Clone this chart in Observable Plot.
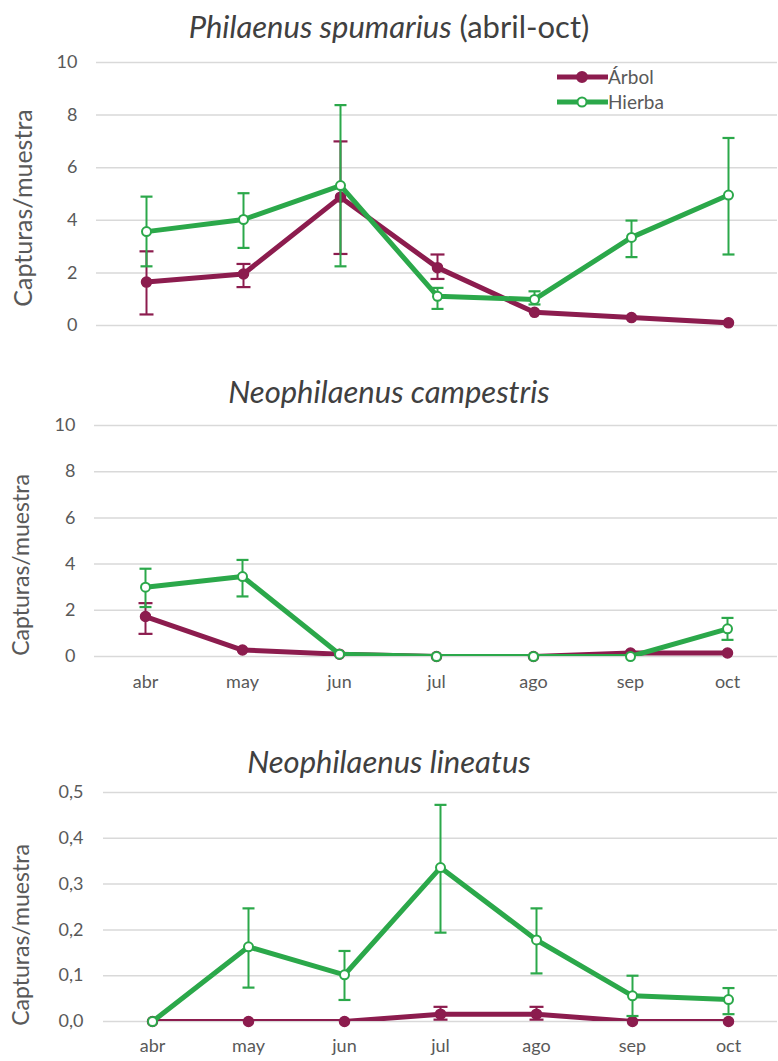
<!DOCTYPE html>
<html><head><meta charset="utf-8">
<script src="https://cdn.jsdelivr.net/npm/d3@7"></script>
<script src="https://cdn.jsdelivr.net/npm/@observablehq/plot@0.6"></script>
<style>
body{margin:0;background:#fff;font-family:Lato,sans-serif;}
#wrap{position:relative;width:778px;height:1061px;overflow:hidden;background:#fff;}
.title{position:absolute;left:0;width:778px;text-align:center;font-size:31px;color:#404040;line-height:36px;}
.ylab{position:absolute;transform:translate(-50%,-50%) rotate(-90deg);white-space:nowrap;color:#595959;}
.panel{position:absolute;left:0;}
</style></head><body><div id="wrap"></div>
<script>
const months = ["abr","may","jun","jul","ago","sep","oct"];
const seriesNames = ["Árbol","Hierba"];
const seriesColors = ["#8c1c4e","#2ba84a"];

// Panel 1: Philaenus spumarius
const p1Arbol   = [1.65, 1.96, 4.88, 2.20, 0.50, 0.30, 0.10];
const p1ArbolLo = [0.42, 1.46, 2.72, 1.77, null, null, null];
const p1ArbolHi = [2.82, 2.34, 7.00, 2.70, null, null, null];
const p1Hierba   = [3.57, 4.03, 5.32, 1.11, 0.99, 3.35, 4.96];
const p1HierbaLo = [2.25, 2.95, 2.25, 0.63, 0.80, 2.60, 2.70];
const p1HierbaHi = [4.90, 5.03, 8.38, 1.43, 1.30, 3.99, 7.13];

// Panel 2: Neophilaenus campestris
const p2Arbol   = [1.73, 0.28, 0.10, 0, 0, 0.15, 0.15];
const p2ArbolLo = [0.98, null, null, null, null, null, null];
const p2ArbolHi = [2.31, null, null, null, null, null, null];
const p2Hierba   = [3.00, 3.46, 0.10, 0, 0, 0, 1.20];
const p2HierbaLo = [2.14, 2.60, null, null, null, null, 0.72];
const p2HierbaHi = [3.80, 4.18, null, null, null, null, 1.67];

// Panel 3: Neophilaenus lineatus
const p3Arbol   = [0, 0, 0, 0.016, 0.016, 0, 0];
const p3ArbolLo = [null, null, null, 0.004, 0.004, null, null];
const p3ArbolHi = [null, null, null, 0.032, 0.032, null, null];
const p3Hierba   = [0, 0.163, 0.102, 0.336, 0.178, 0.056, 0.048];
const p3HierbaLo = [null, 0.074, 0.047, 0.194, 0.105, 0.012, 0.016];
const p3HierbaHi = [null, 0.247, 0.154, 0.473, 0.247, 0.100, 0.073];

const ticks10 = [0, 2, 4, 6, 8, 10];
const ticks05 = [0, 0.1, 0.2, 0.3, 0.4, 0.5];

const yLabel = "Capturas/muestra";

const capSymbol = {draw(ctx, size){ const r = Math.sqrt(size/Math.PI); ctx.moveTo(-r,0); ctx.lineTo(r,0); }};

function rows(vals, lo, hi){
  return months.map((m,i)=>({month:m, v:vals[i], lo:lo[i], hi:hi[i]}));
}

const wrap = document.getElementById("wrap");

function makePanel(cfg){
  const marks = [
    Plot.gridY(cfg.ticks, {stroke:"#d9d9d9", strokeOpacity:1, strokeWidth:1.5}),
    Plot.axisY(cfg.ticks, {tickSize:0, tickPadding:cfg.tickPad, tickFormat:cfg.fmt, label:null, fontSize:cfg.tickFont})
  ];
  if (cfg.xAxis) marks.push(Plot.axisX({tickSize:0, tickPadding:cfg.xPad, label:null, fontSize:18}));
  else marks.push(Plot.axisX([], {label:null}));
  cfg.series.forEach((s, k) => {
    const data = rows(s.v, s.lo, s.hi);
    const col = seriesColors[k];
    const err = data.filter(d => d.lo != null);
    marks.push(Plot.lineY(data, {x:"month", y:"v", stroke:col, strokeWidth:5, strokeLinejoin:"round", clip:true}));
    marks.push(Plot.ruleX(err, {x:"month", y1:"lo", y2:"hi", stroke:col, strokeWidth:2}));
    marks.push(Plot.dot(err, {x:"month", y:"lo", symbol:capSymbol, r:k===0?7:6, stroke:col, strokeWidth:2.2}));
    marks.push(Plot.dot(err, {x:"month", y:"hi", symbol:capSymbol, r:k===0?7:6, stroke:col, strokeWidth:2.2}));
    if (k === 0) marks.push(Plot.dot(data, {x:"month", y:"v", r:5, fill:col, stroke:col}));
    else marks.push(Plot.dot(data, {x:"month", y:"v", r:4.5, fill:"white", stroke:col, strokeWidth:2}));
  });
  const chart = Plot.plot({
    width:778, height:cfg.height,
    marginTop:cfg.mt, marginBottom:cfg.mb, marginLeft:cfg.ml, marginRight:1,
    style:{fontFamily:"Lato, sans-serif", fontSize:"18px", color:"#595959", background:"transparent"},
    x:{type:"point", domain:months, padding:0.5},
    y:{domain:cfg.domain},
    marks
  });
  const div = document.createElement("div");
  div.className = "panel";
  div.style.top = cfg.top + "px";
  div.appendChild(chart);
  wrap.appendChild(div);

  const t = document.createElement("div");
  t.className = "title";
  t.style.top = (cfg.titleY - 18) + "px";
  t.innerHTML = cfg.title;
  wrap.appendChild(t);

  const yl = document.createElement("div");
  yl.className = "ylab";
  yl.style.left = cfg.ylx + "px";
  yl.style.top = cfg.yly + "px";
  yl.style.fontSize = cfg.ylFont + "px";
  yl.textContent = yLabel;
  wrap.appendChild(yl);
}

makePanel({
  top:0, height:340, mt:62, mb:15, ml:96, domain:[0,10], ticks:ticks10, fmt:d=>String(d),
  tickPad:19, tickFont:18, xAxis:false,
  title:"<i>Philaenus spumarius</i> (abril-oct)", titleY:26, ylx:22, yly:208, ylFont:25,
  series:[{v:p1Arbol, lo:p1ArbolLo, hi:p1ArbolHi},{v:p1Hierba, lo:p1HierbaLo, hi:p1HierbaHi}]
});
makePanel({
  top:400, height:300, mt:25, mb:44, ml:94, domain:[0,10], ticks:ticks10, fmt:d=>String(d),
  tickPad:19, tickFont:18, xAxis:true, xPad:19,
  title:"<i>Neophilaenus campestris</i>", titleY:391, ylx:20, yly:565, ylFont:23,
  series:[{v:p2Arbol, lo:p2ArbolLo, hi:p2ArbolHi},{v:p2Hierba, lo:p2HierbaLo, hi:p2HierbaHi}]
});
makePanel({
  top:770, height:291, mt:22, mb:40, ml:103, domain:[0,0.5], ticks:ticks05, fmt:d=>d.toFixed(1).replace(".", ","),
  tickPad:20, tickFont:18, xAxis:true, xPad:18,
  title:"<i>Neophilaenus lineatus</i>", titleY:761, ylx:20, yly:935, ylFont:23,
  series:[{v:p3Arbol, lo:p3ArbolLo, hi:p3ArbolHi},{v:p3Hierba, lo:p3HierbaLo, hi:p3HierbaHi}]
});

// Legend (top panel)
const leg = d3.select(wrap).append("svg")
  .attr("width", 140).attr("height", 50)
  .style("position","absolute").style("left","550px").style("top","64px");
seriesNames.forEach((name, k) => {
  const g = leg.append("g").attr("transform", `translate(0,${13 + k*25})`);
  g.append("line").attr("x1", 7).attr("x2", 58).attr("stroke", seriesColors[k]).attr("stroke-width", 5);
  g.append("circle").attr("cx", 32).attr("r", k===0?5:4.5)
    .attr("fill", k===0?seriesColors[k]:"white").attr("stroke", seriesColors[k]).attr("stroke-width", 2);
  g.append("text").attr("x", 58).attr("dy", "0.35em").attr("fill", "#595959")
    .style("font-family","Lato, sans-serif").style("font-size","19px").text(name);
});
</script></body></html>
